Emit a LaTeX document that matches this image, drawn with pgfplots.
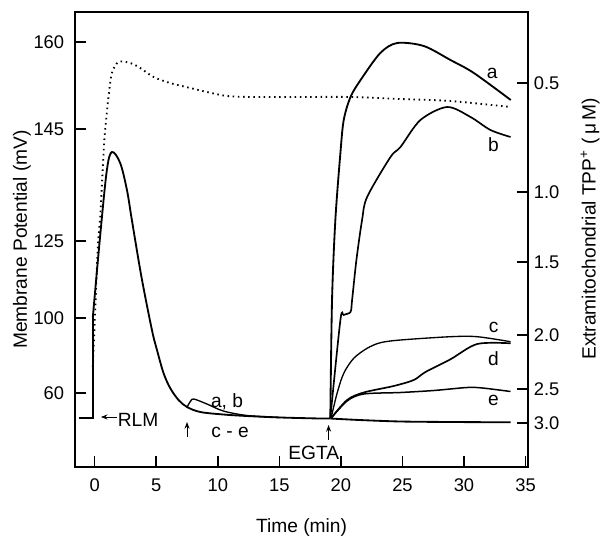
\documentclass[border=0pt]{standalone}
\usepackage{fontspec}
\setmainfont{Liberation Sans}
\usepackage{pgfplots}
\pgfplotsset{compat=1.18}
\usetikzlibrary{arrows.meta}

\newcommand{\lbl}{\fontsize{11.5}{13}\selectfont}
\pgfplotsset{
  common/.style={
    scale only axis, width=271.8pt, height=273pt,
    xmin=-1.6, xmax=35.2, ymin=0, ymax=455,
    tick align=inside, major tick length=6.5pt,
    /pgf/number format/assume math mode=true,
    tick label style={font=\fontsize{11}{13}\selectfont},
    axis line style={line width=0.9pt},
    every tick/.style={line width=0.9pt, black},
  },
}

\begin{document}
\begin{tikzpicture}[every node/.append style={font=\lbl}]
\useasboundingbox (-45pt,-42pt) rectangle (316.8pt,280.2pt);
% left axis: y is the drawn height; ticks carry the mV labels of the figure
\begin{axis}[common, at={(0,0)}, anchor=south west,
    xtick={0,5,...,35}, xtick pos=bottom, ytick pos=left,
    ytick={74,149,226,338,425}, yticklabels={60,100,125,145,160},
    yticklabel style={xshift=-3pt}, xticklabel style={yshift=-3.5pt},
    xlabel={Time (min)}, ylabel={Membrane Potential (mV)},
    every axis x label/.style={at={(axis description cs:0.5,-0.132)}, anchor=center, font=\lbl},
    every axis y label/.style={at={(axis description cs:-0.117,0.5)}, rotate=90, anchor=center, font=\lbl}]

% RLM added, potential rises
\addplot[black, line width=1.1pt] coordinates {(-1.3,49) (-0.15,49) (-0.15,150)};
\addplot[black, line width=1.1pt, smooth, tension=0.55] coordinates {
  (-0.15,150) (0.45,232) (0.99,297) (1.4,315) (2.07,304) (2.62,277) (3.02,247)
  (3.8,190) (4.65,137) (5.06,117) (5.59,94) (6.13,79) (6.81,67) (7.5,60)
  (8.58,55) (10.45,52.5) (12.37,51) (15.1,49.5) (18.3,48.5) (19.14,48.5)};
% control, no EGTA effect
\addplot[black, line width=1.1pt, smooth] coordinates {
  (19.14,48.5) (21.5,47) (24.84,45.5) (29,45) (33.78,44.7)};
% a, b: second addition at 7.5 min
\addplot[black, line width=0.8pt, smooth, tension=0.5] coordinates {
  (7.5,60) (7.8,66) (8.05,68) (9.12,63) (10.45,56) (12.37,51.5) (15.1,49.5)};

% dotted trace
\addplot[black, line width=1.1pt, dash pattern=on 0.9pt off 2.2pt, smooth] coordinates {
  (-0.15,100) (0.05,160) (0.28,226) (0.45,250) (0.72,314) (0.85,337) (1.12,370)
  (1.4,394) (1.93,405) (2.89,404) (3.7,399) (4.78,390) (6.12,384) (7.76,379)
  (9.12,375) (10.75,371) (12.9,370) (16.7,370) (20.8,370) (24.8,368) (28.9,366)
  (33.8,360)};

% after EGTA
\addplot[black, line width=1.1pt, smooth, tension=0.5] coordinates {
  (19.14,49) (19.28,167) (19.55,247) (19.96,314) (20.23,347) (20.78,370)
  (21.6,387) (23.2,414) (24.57,424) (26.73,421) (28.9,407) (30.8,394) (33.8,367)};
\addplot[black, line width=1.0pt, smooth, tension=0.5] coordinates {
  (19.14,49) (19.96,147) (20.23,152) (20.78,155) (20.91,167) (21.26,207)
  (21.72,247) (22.13,270) (24.03,310) (24.84,320) (26.46,347) (28.63,360)
  (30.53,350) (32.15,337) (33.78,330)};
\addplot[black, line width=0.8pt, smooth] coordinates {
  (19.2,48.7) (19.69,73.7) (20.23,93.7) (21.04,108.7) (22.13,118.7) (23.21,124.3)
  (24.84,127) (28.9,130.3) (31.07,130.3) (33.78,125.3)};
\addplot[black, line width=1.0pt, smooth] coordinates {
  (19.2,48.7) (20.5,67) (21.85,74.5) (24.29,81) (25.92,87) (26.87,95)
  (28.9,107.7) (31.07,123) (33.78,123.7)};
\addplot[black, line width=0.9pt, smooth] coordinates {
  (19.2,48.7) (20.5,66) (21.85,73) (24.84,74.5) (27.55,76.5) (30.26,79.5)
  (31.5,79) (33.78,75.5)};

% annotations
\draw[-{Stealth[length=4pt]}, line width=0.6pt] (axis cs:1.8,50) -- (axis cs:0.5,50);
\node[anchor=west, inner sep=0pt] at (axis cs:1.85,47) {RLM};
\draw[-{Stealth[length=4pt]}, line width=0.6pt] (axis cs:7.5,30) -- (axis cs:7.5,45);
\draw[-{Stealth[length=4pt]}, line width=0.6pt] (axis cs:19.0,27) -- (axis cs:19.0,42);
\node at (axis cs:10.75,65) {a, b};
\node at (axis cs:11.0,35) {c - e};
\node at (axis cs:17.8,14) {EGTA};
\node at (axis cs:32.3,394) {a};
\node at (axis cs:32.4,322) {b};
\node at (axis cs:32.4,140) {c};
\node at (axis cs:32.4,108) {d};
\node at (axis cs:32.4,67) {e};
\end{axis}

% right axis: TPP+ scale
\begin{axis}[common, at={(0,0)}, anchor=south west,
    axis x line=none, axis y line*=right,
    ytick={44,78,132,205,275,384}, yticklabels={3.0,2.5,2.0,1.5,1.0,0.5},
    ylabel={Extramitochondrial TPP\textsuperscript{+} (\,μ\,M)},
    every axis y label/.style={at={(axis description cs:1.137,0.523)}, rotate=90, anchor=center, font=\lbl}]
\addplot[draw=none] coordinates {(0,0)};
\end{axis}
\end{tikzpicture}
\end{document}
